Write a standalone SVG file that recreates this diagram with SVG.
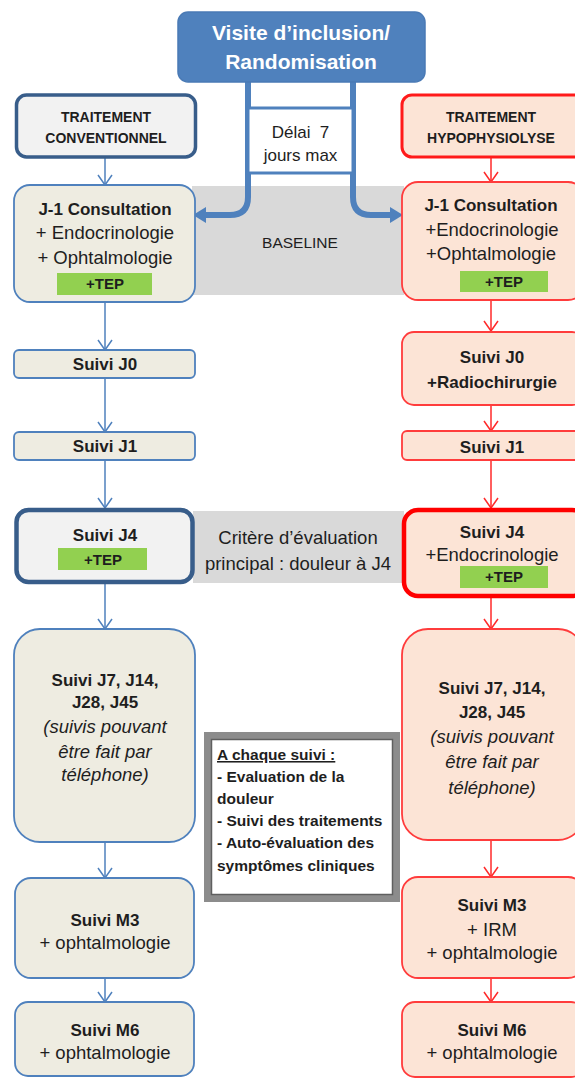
<svg xmlns="http://www.w3.org/2000/svg" width="575" height="1079" viewBox="0 0 575 1079">
<defs>
<style>
text{font-family:"Liberation Sans",Arial,sans-serif;fill:#1e1e1e;text-anchor:middle}
.b{font-weight:bold;font-size:17px}
.r{font-size:18.5px}
.i{font-size:18.5px;font-style:italic}
.hdr{font-weight:bold;font-size:14px}
.tep{font-weight:bold;font-size:15px}
.top{font-weight:bold;font-size:21px;fill:#ffffff}
.mt{font-weight:bold;font-size:15.5px;text-anchor:start}
.lb{fill:#eeece1;stroke:#4f81bd;stroke-width:1.8}
.rb{fill:#fce4d6;stroke:#ff3c3c;stroke-width:1.8}
.lh{fill:#f2f2f2;stroke:#385d8a}
.green{fill:#92d050}
.band{fill:#d9d9d9}
.cl{stroke:#4f81bd;stroke-width:1.5;fill:none}
.cr{stroke:#ff2a2a;stroke-width:1.5;fill:none}
.thick{stroke:#4f81bd;stroke-width:6;fill:none}
</style>
<marker id="al" markerUnits="userSpaceOnUse" markerWidth="12" markerHeight="16" viewBox="0 0 12 16" refX="11" refY="8" orient="auto"><path d="M1,1 L11,8 L1,15" fill="none" stroke="#4f81bd" stroke-width="1.5"/></marker>
<marker id="ar" markerUnits="userSpaceOnUse" markerWidth="12" markerHeight="16" viewBox="0 0 12 16" refX="11" refY="8" orient="auto"><path d="M1,1 L11,8 L1,15" fill="none" stroke="#ff2a2a" stroke-width="1.5"/></marker>
<marker id="at" markerUnits="userSpaceOnUse" markerWidth="13" markerHeight="16" viewBox="0 0 13 16" refX="0" refY="8" orient="auto"><path d="M0,0 L13,8 L0,16 Z" fill="#4f81bd"/></marker>
</defs>

<g id="bands">
<rect class="band" x="192" y="186" width="212" height="109"/>
<text x="300" y="247.5" style="font-size:15.5px">BASELINE</text>
<rect class="band" x="193" y="511" width="211" height="72"/>
<text class="r" x="298" y="544">Critère d’évaluation</text>
<text class="r" x="298" y="570">principal : douleur à J4</text>
</g>

<g id="connectors">
<path class="thick" d="M248,82 V197 Q248,215 230,215 H206" marker-end="url(#at)"/>
<path class="thick" d="M353,82 V197 Q353,215 371,215 H390" marker-end="url(#at)"/>
<path class="cl" d="M105,157 V185" marker-end="url(#al)"/>
<path class="cl" d="M105,302 V350" marker-end="url(#al)"/>
<path class="cl" d="M105,378 V432" marker-end="url(#al)"/>
<path class="cl" d="M105,460 V508" marker-end="url(#al)"/>
<path class="cl" d="M105,583 V629" marker-end="url(#al)"/>
<path class="cl" d="M105,842 V878" marker-end="url(#al)"/>
<path class="cl" d="M105,978 V1002" marker-end="url(#al)"/>
<path class="cr" d="M491,157 V182" marker-end="url(#ar)"/>
<path class="cr" d="M491,300 V331" marker-end="url(#ar)"/>
<path class="cr" d="M491,405 V431" marker-end="url(#ar)"/>
<path class="cr" d="M491,460 V508" marker-end="url(#ar)"/>
<path class="cr" d="M491,598 V629" marker-end="url(#ar)"/>
<path class="cr" d="M491,840 V877" marker-end="url(#ar)"/>
<path class="cr" d="M491,978 V1002" marker-end="url(#ar)"/>
</g>

<g id="inclusion">
<rect x="178" y="12" width="247" height="70" rx="10" fill="#4f81bd" stroke="#4a7ab5" stroke-width="1.5"/>
<text class="top" x="301" y="40">Visite d’inclusion/</text>
<text class="top" x="301" y="69">Randomisation</text>
</g>

<g id="delai">
<rect x="248" y="108" width="105" height="65" fill="#ffffff" stroke="#4f81bd" stroke-width="3"/>
<text x="300.5" y="138" xml:space="preserve" style="font-size:17px">Délai  7</text>
<text x="300.5" y="161" style="font-size:17px">jours max</text>
</g>

<g id="trait-conv">
<rect class="lh" x="16.5" y="95" width="179" height="62" rx="10" stroke-width="3.5"/>
<text class="hdr" x="106" y="122">TRAITEMENT</text>
<text class="hdr" x="106" y="143">CONVENTIONNEL</text>
</g>

<g id="trait-hypo">
<rect class="rb" x="402" y="95" width="182" height="62" rx="10" style="stroke-width:3;stroke:#ff1a1a"/>
<text class="hdr" x="491" y="122">TRAITEMENT</text>
<text class="hdr" x="491" y="143">HYPOPHYSIOLYSE</text>
</g>

<g id="l-j-1">
<rect class="lb" x="14" y="185" width="181" height="117" rx="16"/>
<text class="b" x="105" y="215">J-1 Consultation</text>
<text class="r" x="105" y="239">+ Endocrinologie</text>
<text class="r" x="105" y="264">+ Ophtalmologie</text>
<rect class="green" x="57" y="273" width="95" height="22"/>
<text class="tep" x="105" y="289">+TEP</text>
</g>

<g id="r-j-1">
<rect class="rb" x="402" y="182" width="182" height="118" rx="16"/>
<text class="b" x="491" y="211">J-1 Consultation</text>
<text class="r" x="492" y="236">+Endocrinologie</text>
<text class="r" x="491" y="260">+Ophtalmologie</text>
<rect class="green" x="460" y="271" width="88" height="21"/>
<text class="tep" x="504" y="287">+TEP</text>
</g>

<g id="l-j0">
<rect class="lb" x="14" y="350" width="181" height="28" rx="5"/>
<text class="b" x="105" y="370">Suivi J0</text>
</g>

<g id="r-j0">
<rect class="rb" x="402" y="332" width="182" height="73" rx="12"/>
<text class="b" x="492" y="363">Suivi J0</text>
<text class="b" x="492" y="388">+Radiochirurgie</text>
</g>

<g id="l-j1">
<rect class="lb" x="14" y="432" width="181" height="28" rx="5"/>
<text class="b" x="105" y="452">Suivi J1</text>
</g>

<g id="r-j1">
<rect class="rb" x="402" y="431" width="182" height="29" rx="5"/>
<text class="b" x="492" y="453">Suivi J1</text>
</g>

<g id="l-j4">
<rect class="lh" x="16.5" y="510" width="176" height="72" rx="12" stroke-width="4.5"/>
<text class="b" x="105" y="541">Suivi J4</text>
<rect class="green" x="58" y="548" width="89" height="22"/>
<text class="tep" x="103" y="564.5">+TEP</text>
</g>

<g id="r-j4">
<rect class="rb" x="404" y="510" width="182" height="86" rx="14" style="stroke:#ff0000;stroke-width:4.5"/>
<text class="b" x="492" y="538">Suivi J4</text>
<text class="r" x="492" y="561">+Endocrinologie</text>
<rect class="green" x="460" y="566" width="88" height="22"/>
<text class="tep" x="504" y="582">+TEP</text>
</g>

<g id="l-j7">
<rect class="lb" x="14" y="629" width="181" height="213" rx="26"/>
<text class="b" x="105" y="686">Suivi J7, J14,</text>
<text class="b" x="105" y="708">J28, J45</text>
<text class="i" x="105" y="733">(suivis pouvant</text>
<text class="i" x="105" y="758">être fait par</text>
<text class="i" x="105" y="781">téléphone)</text>
</g>

<g id="r-j7">
<rect class="rb" x="402" y="629" width="182" height="211" rx="26"/>
<text class="b" x="492" y="694">Suivi J7, J14,</text>
<text class="b" x="492" y="718">J28, J45</text>
<text class="i" x="492" y="743">(suivis pouvant</text>
<text class="i" x="492" y="768">être fait par</text>
<text class="i" x="492" y="794">téléphone)</text>
</g>

<g id="chaque-suivi">
<rect x="207.5" y="735.5" width="189" height="163" fill="#ffffff" stroke="#8c8c8c" stroke-width="7"/>
<rect x="211.5" y="739.5" width="181" height="155" fill="none" stroke="#5f5f5f" stroke-width="1.5"/>
<text class="mt" x="217" y="760" text-decoration="underline">A chaque suivi :</text>
<text class="mt" x="217" y="782">- Evaluation de la</text>
<text class="mt" x="217" y="804">douleur</text>
<text class="mt" x="217" y="826">- Suivi des traitements</text>
<text class="mt" x="217" y="848">- Auto-évaluation des</text>
<text class="mt" x="217" y="871">symptômes cliniques</text>
</g>

<g id="l-m3">
<rect class="lb" x="15" y="878" width="179" height="100" rx="16"/>
<text class="b" x="105" y="926">Suivi M3</text>
<text class="r" x="105" y="949">+ ophtalmologie</text>
</g>

<g id="r-m3">
<rect class="rb" x="402" y="877" width="182" height="101" rx="16"/>
<text class="b" x="492" y="911">Suivi M3</text>
<text class="r" x="492" y="936">+ IRM</text>
<text class="r" x="492" y="959">+ ophtalmologie</text>
</g>

<g id="l-m6">
<rect class="lb" x="15" y="1002" width="179" height="74" rx="13"/>
<text class="b" x="105" y="1036">Suivi M6</text>
<text class="r" x="105" y="1059">+ ophtalmologie</text>
</g>

<g id="r-m6">
<rect class="rb" x="402" y="1002" width="182" height="75" rx="13"/>
<text class="b" x="492" y="1036">Suivi M6</text>
<text class="r" x="492" y="1059">+ ophtalmologie</text>
</g>
</svg>
